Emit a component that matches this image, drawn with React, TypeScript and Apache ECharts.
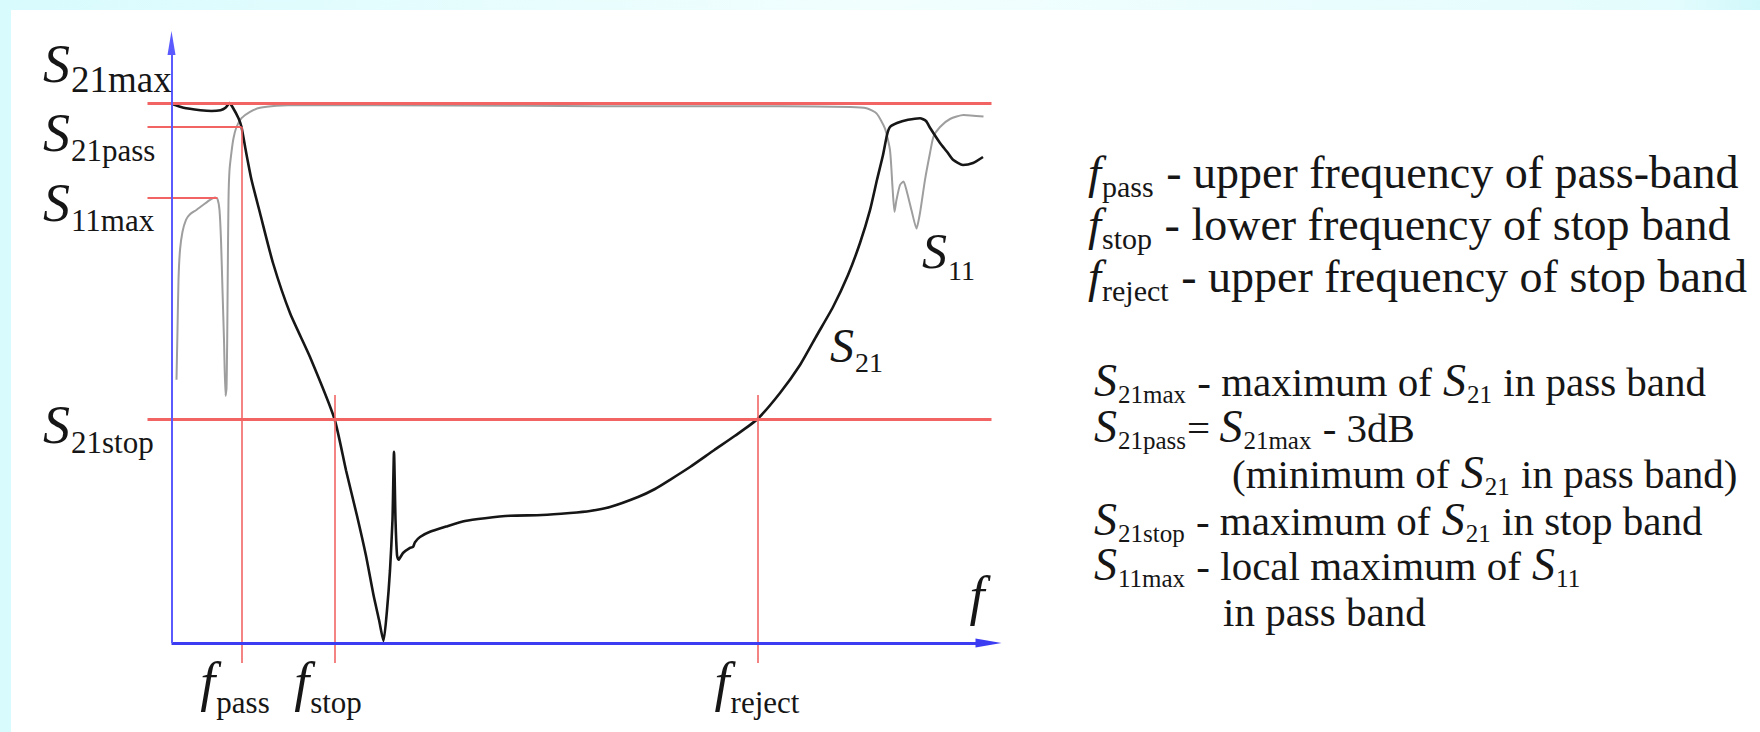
import React, { useEffect, useRef } from 'react';
import * as echarts from 'echarts';

const SERIF = '"Liberation Serif", "Times New Roman", Times, serif';
const RED = '#f26464';
const BLUE = '#3c3cf2';
const INK = '#161616';

// Frequency in arbitrary units, level in dB above the floor of the plot
const fPass = 7.0;
const fStop = 16.3;
const fReject = 58.6;
const s21Max = 67.5;
const s21Pass = s21Max - 3;
const s21Stop = 28.0;
const s11Max = 55.7;

const xMin = -2.4;
const xMax = 83;
const yMin = -2.5;
const yMax = 76.5;
const guideStart = -2.4;
const guideEnd = 82.0;
const guideTop = 31.0;
const s11GuideEnd = 4.6;
const xAxisEnd = 81.7;
const yAxisEnd = 75.0;

// Transmission |S21|
const s21Curve: [number, number][] = [
  [0, 67.4], [1.2, 66.9], [2.9, 66.6], [4.0, 66.5], [4.9, 66.6], [5.4, 66.9],
  [5.8, 67.5], [6.1, 67.0], [6.7, 65.6], [7.0, 64.5], [7.45, 61.4], [8.0, 57.9],
  [8.85, 53.75], [10.15, 47.5], [11.85, 41.25], [13.85, 35.75], [16.3, 28.0],
  [17.45, 21.6], [18.55, 15.9], [19.45, 10.9], [20.2, 6.0], [20.75, 2.9],
  [21.2, 0.25], [21.55, 4.1], [21.85, 9.1], [22.1, 15.4], [22.25, 23.9],
  [22.4, 15.4], [22.55, 11.0], [22.7, 10.4], [23.15, 11.25], [23.85, 11.9],
  [24.15, 12.0], [24.35, 12.6], [24.85, 13.25], [25.85, 13.9], [27.45, 14.55],
  [29.35, 15.25], [31.35, 15.6], [33.85, 15.9], [37.05, 16.0], [39.85, 16.25],
  [41.85, 16.5], [43.85, 17.0], [46.65, 18.25], [48.35, 19.25], [49.85, 20.4],
  [51.85, 22.0], [54.25, 24.1], [56.35, 25.9], [58.6, 28.0], [60.85, 31.25],
  [62.85, 34.75], [64.55, 38.5], [66.15, 42.0], [67.65, 46.0], [68.85, 50.0],
  [69.85, 54.1], [70.55, 57.9], [71.15, 61.0], [71.55, 63.5], [71.85, 64.5],
  [72.55, 65.0], [73.65, 65.4], [74.85, 65.6], [75.45, 65.25], [75.85, 64.4],
  [76.85, 62.5], [77.55, 61.4], [78.15, 60.4], [79.15, 59.75], [80.15, 60.0],
  [81.15, 60.75],
];

// Reflection |S11|
const s11Curve: [number, number][] = [
  [0.5, 32.9], [0.6, 39.1], [0.7, 45.4], [0.85, 49.1], [1.1, 51.4], [1.45, 52.9],
  [1.85, 53.6], [2.45, 54.1], [3.15, 54.75], [3.85, 55.4], [4.35, 55.7], [4.6, 55.5],
  [4.8, 54.1], [4.95, 50.4], [5.1, 44.1], [5.25, 37.9], [5.4, 30.9], [5.5, 31.8],
  [5.57, 37.9], [5.62, 45.4], [5.7, 55.4], [5.8, 59.1], [6.0, 61.4], [6.2, 63.1],
  [6.5, 64.5], [7.0, 65.6], [7.85, 66.4], [8.85, 66.9], [10.5, 67.15], [12.85, 67.25],
  [27.85, 67.2], [42.85, 67.1], [60.85, 67.1], [67.85, 67.0], [69.5, 66.85],
  [70.5, 66.2], [71.35, 64.3], [71.85, 61.6], [72.1, 57.0], [72.3, 53.9], [72.5, 55.4],
  [72.85, 57.25], [73.2, 57.7], [73.5, 56.6], [74.0, 54.1], [74.5, 51.8], [74.85, 53.75],
  [75.35, 57.9], [75.85, 61.25], [76.2, 63.3], [76.85, 64.5], [77.85, 65.5],
  [79.2, 66.0], [81.2, 65.8],
];

// Text runs: 'i' italic symbol, 'r' roman text, 'b' subscript
type Seg = [string, 'i' | 'r' | 'b'];

const levelLabels: Seg[][] = [
  [['S', 'i'], ['21max', 'b']],
  [['S', 'i'], ['21pass', 'b']],
  [['S', 'i'], ['11max', 'b']],
  [['S', 'i'], ['21stop', 'b']],
];
const levelValues = [s21Max, s21Pass, s11Max, s21Stop];

const freqLabels: Seg[][] = [
  [['f', 'i'], ['pass', 'b']],
  [['f', 'i'], ['stop', 'b']],
  [['f', 'i'], ['reject', 'b']],
];
const freqValues = [fPass, fStop, fReject];

const axisName: Seg[] = [['f', 'i']];
const s21Name: Seg[] = [['S', 'i'], ['21', 'b']];
const s11Name: Seg[] = [['S', 'i'], ['11', 'b']];

const freqNotes: Seg[][] = [
  [['f', 'i'], ['pass', 'b'], [' - upper frequency of pass-band', 'r']],
  [['f', 'i'], ['stop', 'b'], [' - lower frequency of stop band', 'r']],
  [['f', 'i'], ['reject', 'b'], [' - upper frequency of stop band', 'r']],
];

const levelNotes: Seg[][] = [
  [['S', 'i'], ['21max', 'b'], [' - maximum of ', 'r'], ['S', 'i'], ['21', 'b'], [' in pass band', 'r']],
  [['S', 'i'], ['21pass', 'b'], ['=\u2009', 'r'], ['S', 'i'], ['21max', 'b'], [' - 3dB', 'r']],
  [['(minimum of ', 'r'], ['S', 'i'], ['21', 'b'], [' in pass band)', 'r']],
  [['S', 'i'], ['21stop', 'b'], [' - maximum of ', 'r'], ['S', 'i'], ['21', 'b'], [' in stop band', 'r']],
  [['S', 'i'], ['11max', 'b'], [' - local maximum of ', 'r'], ['S', 'i'], ['11', 'b']],
  [['in pass band', 'r']],
];

type Fonts = { it: number; main: number; sub: number; subDy: number };

const LEVEL_FONTS: Fonts[] = [
  { it: 54, main: 40, sub: 37, subDy: 10 },
  { it: 54, main: 40, sub: 31, subDy: 10 },
  { it: 54, main: 40, sub: 31, subDy: 10 },
  { it: 54, main: 40, sub: 31, subDy: 10 },
];
const FREQ_FONT: Fonts = { it: 54, main: 40, sub: 31, subDy: 13 };
const CURVE_FONT: Fonts = { it: 48, main: 40, sub: 28, subDy: 10 };
const NOTE1_FONT: Fonts = { it: 47, main: 46, sub: 30, subDy: 9 };
const NOTE2_FONT: Fonts = { it: 46, main: 41, sub: 25, subDy: 7 };
const PIECE_GAP = 1;

let measureCtx: CanvasRenderingContext2D | null = null;
function fontOf(size: number, italic: boolean) {
  return `${italic ? 'italic ' : ''}${size}px ${SERIF}`;
}
function textWidth(t: string, size: number, italic: boolean) {
  if (!measureCtx) measureCtx = document.createElement('canvas').getContext('2d');
  measureCtx!.font = fontOf(size, italic);
  return measureCtx!.measureText(t).width;
}

// Lays a run of roman / italic / subscript pieces along one baseline
function buildRun(segs: Seg[], x: number, base: number, f: Fonts, anchor: 'left' | 'center' | 'right' = 'left') {
  const parts = segs.map(([t, k]) => {
    const size = k === 'i' ? f.it : k === 'b' ? f.sub : f.main;
    return { t, k, size, w: textWidth(t, size, k === 'i') + PIECE_GAP };
  });
  const total = parts.reduce((a, p) => a + p.w, 0);
  let cx = anchor === 'left' ? x : anchor === 'right' ? x - total : x - total / 2;
  return parts.map((p) => {
    const b = p.k === 'b' ? base + f.subDy : base;
    const el = {
      type: 'text',
      x: cx,
      y: b - 0.34 * p.size,
      silent: true,
      z: 10,
      style: {
        text: p.t,
        font: fontOf(p.size, p.k === 'i'),
        fill: INK,
        align: 'left',
        verticalAlign: 'middle',
        textAlign: 'left',
        textVerticalAlign: 'middle',
      },
    };
    cx += p.w;
    return el;
  });
}

function buildOption(): echarts.EChartsOption {
  const hLine = (y: number, x0: number, x1: number, width: number) => [
    { coord: [x0, y], lineStyle: { color: RED, width, type: 'solid' } },
    { coord: [x1, y] },
  ];
  const vLine = (x: number, y0: number, y1: number, width: number) => [
    { coord: [x, y0], lineStyle: { color: RED, width, type: 'solid' } },
    { coord: [x, y1] },
  ];
  return {
    animation: false,
    grid: {
      left: 147.5,
      top: 31,
      width: 854,
      height: 632,
      containLabel: false,
      outerBoundsMode: 'none',
    } as any,
    xAxis: { type: 'value', min: xMin, max: xMax, show: false },
    yAxis: { type: 'value', min: yMin, max: yMax, show: false },
    series: [
      {
        name: 'guides',
        type: 'line',
        data: [],
        z: 1,
        markLine: {
          silent: true,
          animation: false,
          symbol: ['none', 'none'],
          label: { show: false },
          emphasis: { disabled: true },
          data: [
            hLine(s21Max, guideStart, guideEnd, 3),
            hLine(s21Pass, guideStart, fPass, 2),
            hLine(s11Max, guideStart, s11GuideEnd, 2),
            hLine(s21Stop, guideStart, guideEnd, 3),
            vLine(fPass, s21Pass, yMin, 1.6),
            vLine(fStop, guideTop, yMin, 1.6),
            vLine(fReject, guideTop, yMin, 1.6),
          ] as any,
        },
      },
      {
        name: 'S11',
        type: 'line',
        data: s11Curve,
        showSymbol: false,
        smooth: 0.2,
        z: 2,
        lineStyle: { color: '#9e9e9e', width: 2 },
        emphasis: { disabled: true },
      },
      {
        name: 'S21',
        type: 'line',
        data: s21Curve,
        showSymbol: false,
        smooth: 0.2,
        z: 3,
        lineStyle: { color: INK, width: 2.6 },
        emphasis: { disabled: true },
      },
      {
        name: 'axes',
        type: 'line',
        data: [],
        z: 4,
        markLine: {
          silent: true,
          animation: false,
          label: { show: false },
          emphasis: { disabled: true },
          data: [
            [
              { coord: [0, 0], symbol: 'none', lineStyle: { color: BLUE, width: 3, type: 'solid' } },
              { coord: [xAxisEnd, 0], symbol: 'triangle', symbolSize: [9, 26] },
            ],
            [
              { coord: [0, 0], symbol: 'none', lineStyle: { color: '#5a5aff', width: 2, type: 'solid' } },
              { coord: [0, yAxisEnd], symbol: 'triangle', symbolSize: [8, 24] },
            ],
          ] as any,
          itemStyle: { color: BLUE },
        } as any,
      },
    ],
  };
}

function buildGraphics(chart: echarts.ECharts) {
  const toPx = (x: number, y: number) => chart.convertToPixel({ gridIndex: 0 }, [x, y]) as number[];
  const els: any[] = [
    { type: 'rect', silent: true, z: -10, shape: { x: 0, y: 0, width: 11, height: 732 }, style: { fill: '#d8fbfd' } },
    {
      type: 'rect', silent: true, z: -10, shape: { x: 0, y: 0, width: 1760, height: 10 },
      style: {
        fill: new echarts.graphic.LinearGradient(0, 0, 1, 0, [
          { offset: 0, color: '#d8fbfd' },
          { offset: 0.5, color: '#f2fefe' },
          { offset: 0.95, color: '#e4fcfd' },
          { offset: 1, color: '#d0f8fb' },
        ]),
      },
    },
  ];

  // level names along the vertical axis
  const levelDy = [-21, 24, 24, 24];
  levelLabels.forEach((segs, i) => {
    const [, py] = toPx(0, levelValues[i]);
    els.push(...buildRun(segs, 43, py + levelDy[i], LEVEL_FONTS[i]));
  });

  // frequency names below the horizontal axis
  const [, axisY] = toPx(0, 0);
  const freqDx = [-6, -6, 0];
  freqLabels.forEach((segs, i) => {
    const [px] = toPx(freqValues[i], 0);
    els.push(...buildRun(segs, px + freqDx[i], axisY + 57, FREQ_FONT, 'center'));
  });

  // axis name and curve names
  const [axX, axY] = toPx(xMax, 0);
  els.push(...buildRun(axisName, axX - 32, axY - 29, FREQ_FONT));
  const [s21x, s21y] = toPx(65.85, 35.1);
  els.push(...buildRun(s21Name, s21x, s21y, CURVE_FONT));
  const [s11x, s11y] = toPx(75.05, 46.9);
  els.push(...buildRun(s11Name, s11x, s11y, { it: 50, main: 40, sub: 28, subDy: 12 }));

  // definitions on the right
  const note1Base = [188, 240, 292];
  freqNotes.forEach((segs, i) => els.push(...buildRun(segs, 1088, note1Base[i], NOTE1_FONT)));
  const note2Base = [396, 442, 488, 535, 580, 626];
  const note2X = [1094, 1094, 1232, 1094, 1094, 1223];
  levelNotes.forEach((segs, i) => els.push(...buildRun(segs, note2X[i], note2Base[i], NOTE2_FONT)));

  return els;
}

export default function App() {
  const ref = useRef<HTMLDivElement>(null);
  useEffect(() => {
    const el = ref.current!;
    const chart = echarts.init(el, undefined, { renderer: 'svg', width: 1760, height: 732 });
    chart.setOption(buildOption());
    chart.setOption({ graphic: { elements: buildGraphics(chart) } });
    return () => chart.dispose();
  }, []);
  return (
    <div
      ref={ref}
      style={{ position: 'absolute', left: 0, top: 0, width: 1760, height: 732, background: '#ffffff' }}
    />
  );
}
